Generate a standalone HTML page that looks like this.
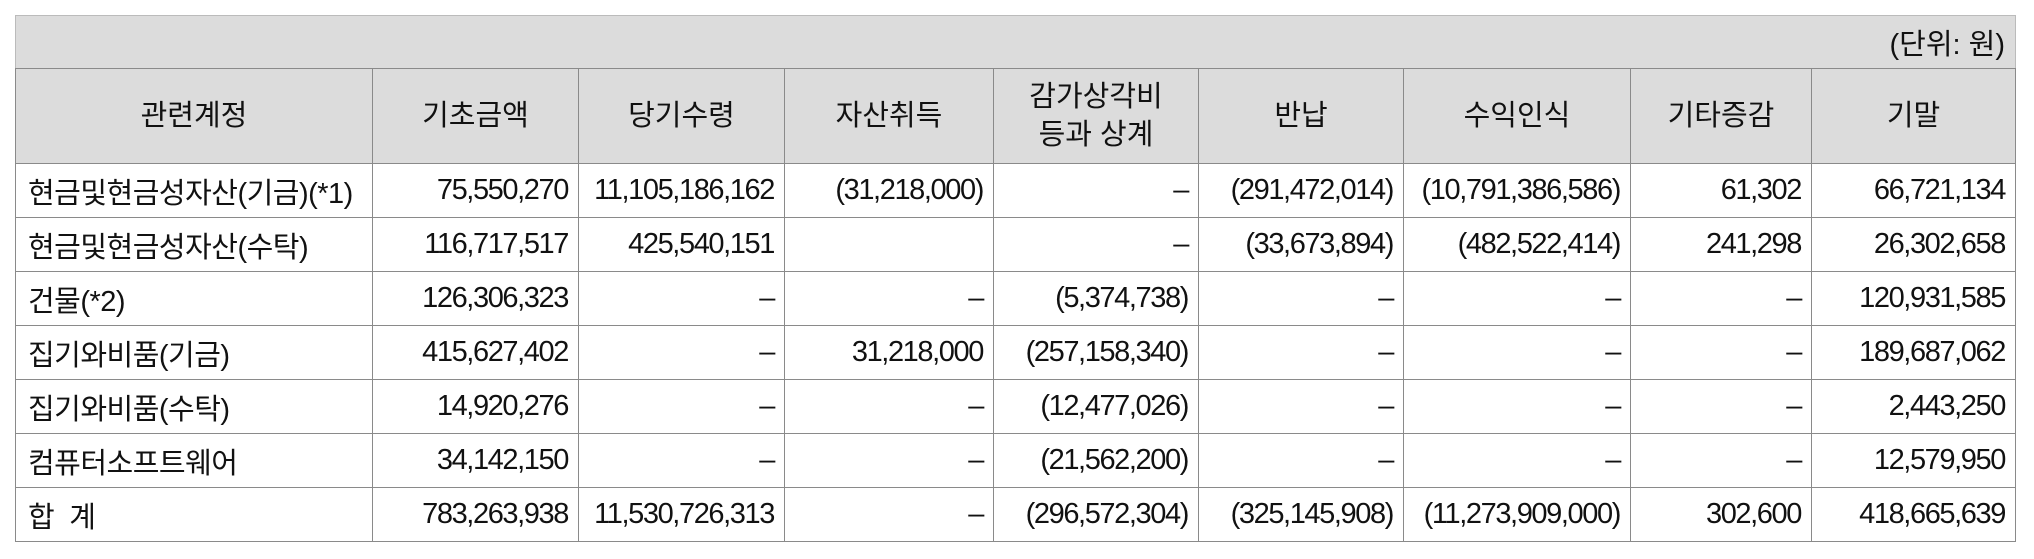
<!DOCTYPE html>
<html><head><meta charset="utf-8">
<style>
html,body{margin:0;padding:0;background:#fff;width:2034px;height:559px;overflow:hidden}
table{position:absolute;left:15px;top:15px;border-collapse:collapse;table-layout:fixed;
font-family:"Liberation Sans","Noto Sans CJK KR",sans-serif;font-size:29px;color:#111}
td{border:1px solid #8a8a8a;padding:0 10px;height:53px;white-space:nowrap;overflow:hidden;text-align:right;letter-spacing:-1.4px}
td.l{text-align:left;letter-spacing:-0.5px;padding-left:12px}
tr.unit td{background:#dcdcdc;height:52px;border-color:#bbb #bbb #8a8a8a #bbb;letter-spacing:0}
tr.hd td{background:#dcdcdc;height:94px;text-align:center;letter-spacing:0;line-height:38px}
table{border:1px solid #c8c8c8}
</style></head><body>
<table>
<colgroup><col style="width:357px"><col style="width:206px"><col style="width:206px"><col style="width:209px"><col style="width:205px"><col style="width:205px"><col style="width:227px"><col style="width:181px"><col style="width:204px"></colgroup>
<tr class="unit"><td colspan="9">(단위: 원)</td></tr>
<tr class="hd">
<td>관련계정</td>
<td>기초금액</td>
<td>당기수령</td>
<td>자산취득</td>
<td>감가상각비<br>등과 상계</td>
<td>반납</td>
<td>수익인식</td>
<td>기타증감</td>
<td>기말</td></tr>
<tr><td class="l">현금및현금성자산(기금)(*1)</td><td>75,550,270</td><td>11,105,186,162</td><td>(31,218,000)</td><td>–</td><td>(291,472,014)</td><td>(10,791,386,586)</td><td>61,302</td><td>66,721,134</td></tr>
<tr><td class="l">현금및현금성자산(수탁)</td><td>116,717,517</td><td>425,540,151</td><td></td><td>–</td><td>(33,673,894)</td><td>(482,522,414)</td><td>241,298</td><td>26,302,658</td></tr>
<tr><td class="l">건물(*2)</td><td>126,306,323</td><td>–</td><td>–</td><td>(5,374,738)</td><td>–</td><td>–</td><td>–</td><td>120,931,585</td></tr>
<tr><td class="l">집기와비품(기금)</td><td>415,627,402</td><td>–</td><td>31,218,000</td><td>(257,158,340)</td><td>–</td><td>–</td><td>–</td><td>189,687,062</td></tr>
<tr><td class="l">집기와비품(수탁)</td><td>14,920,276</td><td>–</td><td>–</td><td>(12,477,026)</td><td>–</td><td>–</td><td>–</td><td>2,443,250</td></tr>
<tr><td class="l">컴퓨터소프트웨어</td><td>34,142,150</td><td>–</td><td>–</td><td>(21,562,200)</td><td>–</td><td>–</td><td>–</td><td>12,579,950</td></tr>
<tr><td class="l">합&nbsp;&nbsp;계</td><td>783,263,938</td><td>11,530,726,313</td><td>–</td><td>(296,572,304)</td><td>(325,145,908)</td><td>(11,273,909,000)</td><td>302,600</td><td>418,665,639</td></tr>
</table>
</body></html>
